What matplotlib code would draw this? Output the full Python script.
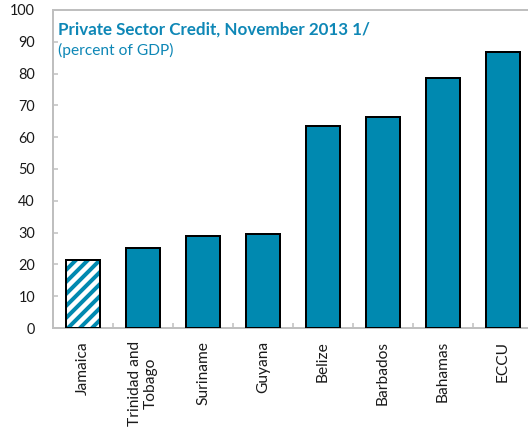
import matplotlib
matplotlib.use("Agg")
import matplotlib.pyplot as plt

countries = ["Jamaica", "Trinidad and\nTobago", "Suriname", "Guyana",
             "Belize", "Barbados", "Bahamas", "ECCU"]
credit_pct_gdp = [21.3, 25.3, 28.8, 29.7, 63.6, 66.4, 78.5, 86.8]
hatched = [True, False, False, False, False, False, False, False]
yticks = [0, 10, 20, 30, 40, 50, 60, 70, 80, 90, 100]

TEAL = "#0089B0"
GRID = "#BFBFBF"

plt.rcParams["font.family"] = ["Lato", "DejaVu Sans"]
plt.rcParams["hatch.linewidth"] = 4.0

DPI = 72
fig = plt.figure(figsize=(528 / DPI, 431 / DPI), dpi=DPI)
ax = fig.add_axes([53 / 528, 1 - 328 / 431, 480 / 528, 318 / 431])

x = list(range(len(countries)))
for xi, v, h in zip(x, credit_pct_gdp, hatched):
    if h:
        ax.bar(xi, v, width=0.57, facecolor="white", edgecolor=TEAL,
               hatch="//", linewidth=0, zorder=2)
        ax.bar(xi, v, width=0.57, facecolor="none", edgecolor="black",
               linewidth=2, zorder=3)
    else:
        ax.bar(xi, v, width=0.57, facecolor=TEAL, edgecolor="black",
               linewidth=2, zorder=3)

ax.set_xlim(-0.5, len(countries) - 0.5)
ax.set_ylim(0, 100)
ax.set_yticks(yticks)
ax.set_yticklabels([str(t) for t in yticks])

ax.set_xticks(x)
ax.set_xticklabels(countries, rotation=90, ha="center", va="top",
                   multialignment="center")
ax.set_xticks([i + 0.5 for i in range(len(countries) - 1)], minor=True)
ax.tick_params(axis="x", which="major", length=0, pad=13,
               labelsize=15.5, labelcolor="#1a1a1a")
ax.tick_params(axis="x", which="minor", direction="in", length=5,
               width=1.5, color=GRID)
ax.tick_params(axis="y", direction="in", length=5, width=1.5, color=GRID,
               pad=18, labelsize=14.5, labelcolor="#1a1a1a")

for side in ("left", "bottom", "top"):
    ax.spines[side].set_color(GRID)
    ax.spines[side].set_linewidth(2)
ax.spines["right"].set_visible(False)

ax.text(0.01, 0.965, "Private Sector Credit, November 2013 1/",
        transform=ax.transAxes, ha="left", va="top", fontsize=17,
        fontweight="bold", color="#0E87B6")
ax.text(0.01, 0.897, "(percent of GDP)", transform=ax.transAxes,
        ha="left", va="top", fontsize=15.5, color="#0E87B6")

fig.savefig("out.png", dpi=DPI)
